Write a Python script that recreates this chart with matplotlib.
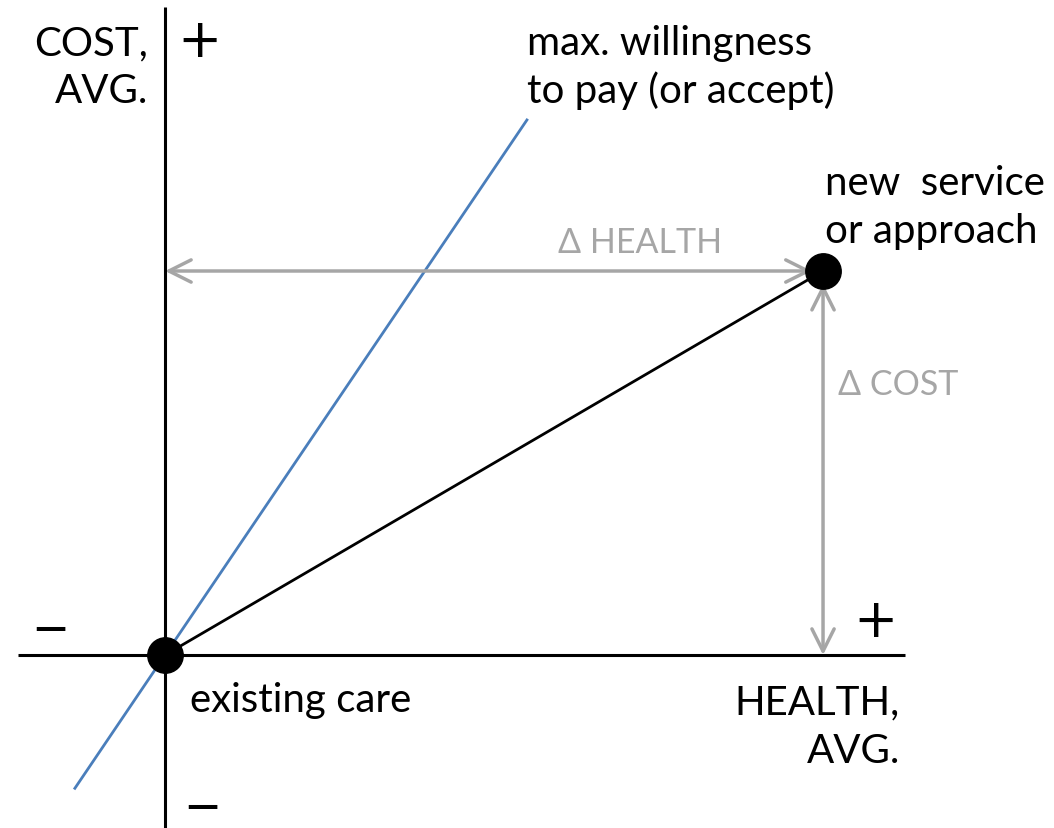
import matplotlib.pyplot as plt

plt.rcParams['font.family'] = ['Lato', 'DejaVu Sans']

# health (x) and cost (y), relative to existing care
existing = (0.0, 0.0)
new_service = (10.0, 6.0)
wtp_slope = 1.52          # max. willingness to pay per unit of health
wtp_health = [-1.37, 5.5]

fig = plt.figure(figsize=(10.54, 8.29), dpi=100)
ax = fig.add_axes([0, 0, 1, 1])
ax.set_xlim(-2.508, 13.51)
ax.set_ylim(-2.703, 10.25)
ax.axis('off')

# axes cross
ax.plot([-2.23, 11.25], [0, 0], color='black', lw=2.2, solid_capstyle='butt')
ax.plot([0, 0], [-2.703, 10.12], color='black', lw=2.2, solid_capstyle='butt')

# willingness to pay line
ax.plot(wtp_health, [h * wtp_slope for h in wtp_health], color='#4a7ebb', lw=2)

# existing -> new
ax.plot([existing[0], new_service[0]], [existing[1], new_service[1]], color='black', lw=2)

gray = '#a6a6a6'
ax.annotate('', xy=(existing[0], new_service[1]), xytext=(new_service[0] - 0.17, new_service[1]),
            arrowprops=dict(arrowstyle='<->', color=gray, lw=2.5, mutation_scale=40,
                            shrinkA=0, shrinkB=0))
ax.annotate('', xy=(new_service[0], existing[1]), xytext=(new_service[0], new_service[1] - 0.2),
            arrowprops=dict(arrowstyle='<->', color=gray, lw=2.5, mutation_scale=40,
                            shrinkA=0, shrinkB=0))

ax.scatter([existing[0], new_service[0]], [existing[1], new_service[1]], s=650,
           color='black', zorder=5)

gap = 0.75


def label(x, y, lines, ha='left', color='black', fs=29):
    for i, line in enumerate(lines):
        ax.text(x, y - i * gap, line, ha=ha, va='baseline', fontsize=fs, color=color)


label(7.22, 6.3, ['\u0394 HEALTH'], ha='center', color=gray, fs=24.5)
label(10.23, 4.08, ['\u0394 COST'], color=gray, fs=24.5)
label(-0.26, 9.39, ['COST,', 'AVG.'], ha='right')
label(5.5, 9.39, ['max. willingness', 'to pay (or accept)'])
label(10.03, 7.2, ['new  service', 'or approach'])
label(0.38, -0.875, ['existing care'])
label(11.17, -0.92, ['HEALTH,', 'AVG.'], ha='right')

sign = dict(ha='center', va='center', family='DejaVu Sans')
ax.text(0.53, 9.59, '+', fontsize=38, **sign)
ax.text(10.8, 0.53, '+', fontsize=38, **sign)
ax.text(-1.75, 0.41, '\u2014', fontsize=23, fontweight='bold', **sign)
ax.text(0.56, -2.37, '\u2014', fontsize=23, fontweight='bold', **sign)

fig.savefig('out.png', dpi=100)
